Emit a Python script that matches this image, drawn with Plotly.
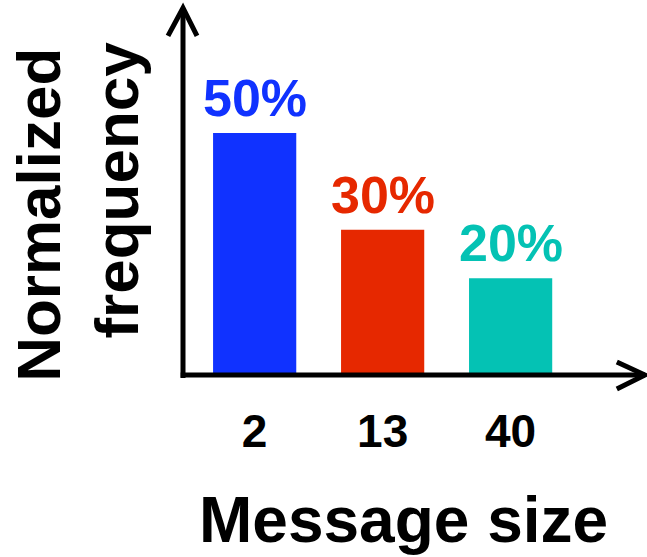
import plotly.graph_objects as go

# Message-size categories and their normalized frequencies (%)
sizes = ["2", "13", "40"]
freq_pct = [50, 30, 20]
bar_colors = ["#1032ff", "#e62800", "#04c2b4"]
value_labels = [f"{v}%" for v in freq_pct]

FONT = "Liberation Sans, Arial, Helvetica, sans-serif"

fig = go.Figure()
fig.add_trace(go.Bar(
    x=sizes,
    y=freq_pct,
    width=0.65,
    marker=dict(color=bar_colors, line=dict(width=0)),
    hoverinfo="skip",
))

# Percentage labels above each bar (category positions given by index)
for i, (v, lab, col) in enumerate(zip(freq_pct, value_labels, bar_colors)):
    fig.add_annotation(
        x=i, y=v, xref="x", yref="y", text=f"<b>{lab}</b>",
        showarrow=False, yanchor="bottom", yshift=4,
        font=dict(family=FONT, size=52, color=col),
    )

# Axis titles (rotated y title is two separately placed lines)
fig.add_annotation(
    x=-0.312, y=0.436, xref="paper", yref="paper", text="<b>Normalized</b>",
    textangle=-90, showarrow=False, xanchor="center", yanchor="middle",
    font=dict(family=FONT, size=62, color="black"),
)
fig.add_annotation(
    x=-0.146, y=0.504, xref="paper", yref="paper", text="<b>frequency</b>",
    textangle=-90, showarrow=False, xanchor="center", yanchor="middle",
    font=dict(family=FONT, size=62, color="black"),
)
fig.add_annotation(
    x=0.477, y=-0.396, xref="paper", yref="paper", text="<b>Message size</b>",
    showarrow=False, xanchor="center", yanchor="middle",
    font=dict(family=FONT, size=64, color="black"),
)

# Axes drawn as arrows
axis_line = dict(color="black", width=5)
# vertical axis and its arrowhead
fig.add_shape(type="path", xref="paper", yref="paper",
              path="M 0,-0.008 L 0,1", line=axis_line)
fig.add_shape(type="path", xref="paper", yref="paper",
              path="M -0.0325,0.924 L 0,1 L 0.0303,0.924", line=axis_line)
# horizontal axis and its arrowhead
fig.add_shape(type="path", xref="paper", yref="paper",
              path="M -0.005,0 L 1,0", line=axis_line)
fig.add_shape(type="path", xref="paper", yref="paper",
              path="M 0.939,0.0354 L 1,0 L 0.939,-0.0381", line=axis_line)

fig.update_xaxes(
    type="category",
    range=[-0.56, 3.05],
    showline=False, showgrid=False, zeroline=False, ticks="",
    tickfont=dict(family=FONT, size=46, color="black"),
    tickprefix="<b>", ticksuffix="</b>",
    ticklabelstandoff=25,
)
fig.update_yaxes(
    range=[0, 75.8],
    showline=False, showgrid=False, zeroline=False,
    showticklabels=False, ticks="",
)

fig.update_layout(
    width=647, height=557,
    margin=dict(l=183, r=2, t=8, b=182),
    plot_bgcolor="white", paper_bgcolor="white",
    showlegend=False,
    bargap=0.35,
)

fig.write_html("out.html")
